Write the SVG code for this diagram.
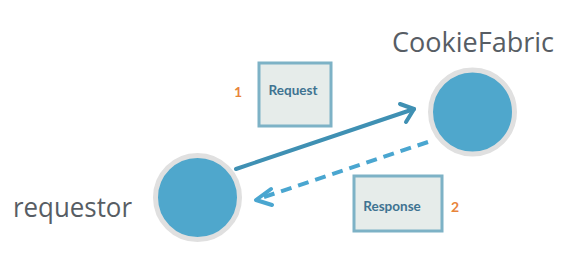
<svg xmlns="http://www.w3.org/2000/svg" width="567" height="265" viewBox="0 0 567 265">
<defs>
<style>
.ring{fill:#4fa7cc;stroke:#e0e0e0;stroke-width:5}
.name{font-family:"Open Sans","Noto Sans",sans-serif;font-size:26.5px;fill:#575d64}
.box{fill:#e6ecea;stroke:#7db2c6;stroke-width:3}
.lbl{font-family:"Lato","Noto Sans",sans-serif;font-weight:bold;font-size:13.5px;fill:#3e7391;text-anchor:middle}
.num{font-family:"Lato","Noto Sans",sans-serif;font-weight:bold;font-size:14px;fill:#e8853b;text-anchor:middle}
.solid{fill:none;stroke:#3f90b3;stroke-width:4;stroke-linecap:round;stroke-linejoin:round}
.dash{fill:none;stroke:#4aa6d0;stroke-width:4;stroke-dasharray:11 7}
.head{fill:none;stroke:#4aa6d0;stroke-width:4;stroke-linecap:round;stroke-linejoin:round}
</style>
</defs>
<g id="connectors">
<path class="solid" d="M236 169 L414 109"/>
<path class="solid" d="M400 104 L414 109 L406 122"/>
<path class="dash" d="M428 142 L258 199"/>
<path class="head" d="M271 189 L256 200 L272 205"/>
</g>
<g id="requestor">
<circle class="ring" cx="197.5" cy="197.5" r="42"/>
<text class="name" x="13" y="217" textLength="119" lengthAdjust="spacingAndGlyphs">requestor</text>
</g>
<g id="cookiefabric">
<circle class="ring" cx="472.5" cy="112" r="42"/>
<text class="name" x="392" y="52" textLength="162" lengthAdjust="spacingAndGlyphs">CookieFabric</text>
</g>
<g id="request">
<rect class="box" x="259" y="63" width="72" height="63"/>
<text class="lbl" x="293" y="95">Request</text>
<text class="num" x="238" y="97">1</text>
</g>
<g id="response">
<rect class="box" x="354" y="176" width="88" height="55"/>
<text class="lbl" x="392" y="211">Response</text>
<text class="num" x="455" y="212">2</text>
</g>
</svg>
